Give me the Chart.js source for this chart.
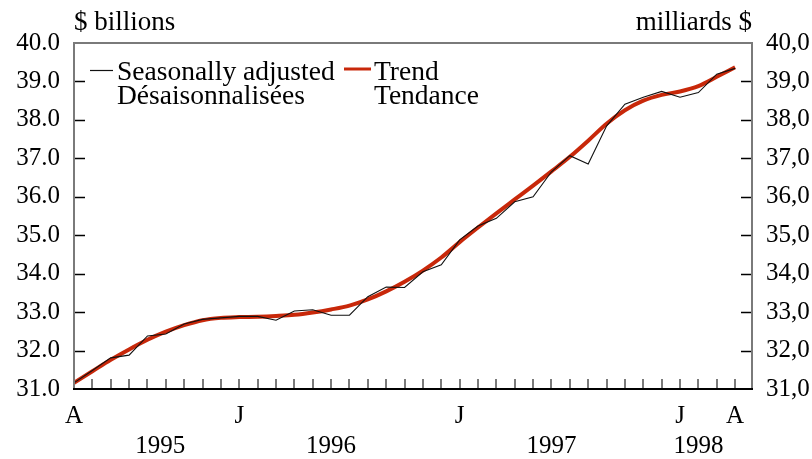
<!DOCTYPE html>
<html lang="en">
<head>
  <meta charset="UTF-8" />
  <title>Seasonally adjusted and trend, 1995-1998</title>
  <script src="https://cdn.jsdelivr.net/npm/chart.js"></script>
  <style>
    html, body {
      margin: 0;
      padding: 0;
      background: #fff;
    }
    #wrap {
      width: 812px;
      height: 459px;
    }
  </style>
</head>
<body>
  <div id="wrap">
    <canvas id="chart" width="812" height="459"></canvas>
  </div>

  <script>
    // Monthly, April 1995 to April 1998
    const months = [
      'A', 'M', 'J', 'J', 'A', 'S', 'O', 'N', 'D',
      'J', 'F', 'M', 'A', 'M', 'J', 'J', 'A', 'S', 'O', 'N', 'D',
      'J', 'F', 'M', 'A', 'M', 'J', 'J', 'A', 'S', 'O', 'N', 'D',
      'J', 'F', 'M', 'A'
    ];
    const labelledMonths = [0, 9, 21, 33, 36];

    const yearLabels = ['1995', '1996', '1997', '1998'];
    const yearAt = [4.7, 14.0, 26.0, 34.0];

    const seasonallyAdjusted = [
      31.16, 31.48, 31.81, 31.88, 32.38, 32.43, 32.69, 32.81, 32.85,
      32.89, 32.89, 32.79, 33.03, 33.06, 32.92, 32.92, 33.40, 33.65, 33.64, 34.05, 34.23,
      34.88, 35.24, 35.44, 35.87, 36.00, 36.65, 37.07, 36.85, 37.84, 38.41, 38.59, 38.74,
      38.59, 38.71, 39.19, 39.34
    ];

    const trend = [
      31.16, 31.46, 31.76, 32.03, 32.28, 32.49, 32.66, 32.79, 32.85,
      32.87, 32.88, 32.90, 32.93, 32.99, 33.07, 33.17, 33.33, 33.54, 33.79, 34.08, 34.42,
      34.82, 35.20, 35.57, 35.93, 36.29, 36.66, 37.04, 37.46, 37.90, 38.25, 38.50, 38.65,
      38.74, 38.88, 39.12, 39.37
    ];

    const yTicks = [31, 32, 33, 34, 35, 36, 37, 38, 39, 40];

    const saLegend = ['Seasonally adjusted', 'Désaisonnalisées'];
    const trendLegend = ['Trend', 'Tendance'];
    const unitLeft = '$ billions';
    const unitRight = 'milliards $';

    const serif = "'Liberation Serif', 'Times New Roman', serif";
    const tickFont = { family: serif, size: 25 };

    // box, inner tick marks, legend and unit labels
    const frame = {
      id: 'frame',
      afterDraw(chart) {
        const { ctx, chartArea: a, scales } = chart;
        ctx.save();

        // x tick marks, pointing up into the plot
        ctx.strokeStyle = '#7a7a7a';
        ctx.lineWidth = 2;
        scales.x.ticks.forEach(t => {
          const px = Math.round(scales.x.getPixelForValue(t.value));
          ctx.beginPath();
          ctx.moveTo(px, a.bottom);
          ctx.lineTo(px, a.bottom - 10);
          ctx.stroke();
        });

        // y tick marks, both sides
        ctx.strokeStyle = '#000';
        ctx.lineWidth = 1.5;
        scales.y.ticks.forEach(t => {
          if (t.value <= scales.y.min || t.value >= scales.y.max) return;
          const py = Math.round(scales.y.getPixelForValue(t.value)) + 0.5;
          ctx.beginPath();
          ctx.moveTo(a.left, py);
          ctx.lineTo(a.left + 11, py);
          ctx.moveTo(a.right, py);
          ctx.lineTo(a.right - 11, py);
          ctx.stroke();
        });

        // box
        ctx.strokeStyle = '#7a7a7a';
        ctx.lineWidth = 2;
        ctx.beginPath();
        ctx.moveTo(a.left, a.bottom);
        ctx.lineTo(a.left, a.top);
        ctx.lineTo(a.right, a.top);
        ctx.lineTo(a.right, a.bottom);
        ctx.stroke();
        ctx.strokeStyle = '#000';
        ctx.beginPath();
        ctx.moveTo(a.left - 1, a.bottom);
        ctx.lineTo(a.right + 1, a.bottom);
        ctx.stroke();

        // unit labels
        ctx.fillStyle = '#000';
        ctx.font = '27px ' + serif;
        ctx.textBaseline = 'alphabetic';
        ctx.textAlign = 'left';
        ctx.fillText(unitLeft, a.left, 30);
        ctx.textAlign = 'right';
        ctx.fillText(unitRight, a.right, 30);

        // legend
        const sa = chart.data.datasets[1];
        const tr = chart.data.datasets[0];
        ctx.font = '27.5px ' + serif;
        ctx.textAlign = 'left';
        ctx.strokeStyle = sa.borderColor;
        ctx.lineWidth = 1.2;
        ctx.beginPath();
        ctx.moveTo(90, 70.5);
        ctx.lineTo(113, 70.5);
        ctx.stroke();
        ctx.fillText(saLegend[0], 117, 80);
        ctx.fillText(saLegend[1], 117, 104);

        ctx.strokeStyle = tr.borderColor;
        ctx.lineWidth = 3;
        ctx.beginPath();
        ctx.moveTo(344, 69);
        ctx.lineTo(371, 69);
        ctx.stroke();
        ctx.fillText(trendLegend[0], 374, 80);
        ctx.fillText(trendLegend[1], 374, 104);

        ctx.restore();
      }
    };

    const ctx = document.getElementById('chart').getContext('2d');

    new Chart(ctx, {
      type: 'line',
      data: {
        datasets: [
          {
            label: trendLegend[0],
            data: trend.map((v, i) => ({ x: i, y: v })),
            borderColor: '#c8280a',
            borderWidth: 4,
            pointRadius: 0,
            cubicInterpolationMode: 'monotone',
            order: 1
          },
          {
            label: saLegend[0],
            data: seasonallyAdjusted.map((v, i) => ({ x: i, y: v })),
            borderColor: '#111',
            borderWidth: 1.1,
            pointRadius: 0,
            tension: 0,
            order: 0
          }
        ]
      },
      options: {
        responsive: false,
        animation: false,
        events: [],
        layout: {
          padding: { top: 43, right: 0, bottom: 0, left: 0 }
        },
        plugins: {
          legend: { display: false },
          tooltip: { enabled: false }
        },
        scales: {
          x: {
            type: 'linear',
            position: 'bottom',
            weight: 0,
            min: 0,
            max: 36.92,
            afterBuildTicks: s => { s.ticks = months.map((m, i) => ({ value: i })); },
            afterFit: s => { s.height = 40; },
            grid: { display: false, drawTicks: false },
            border: { display: false },
            ticks: {
              autoSkip: false,
              maxRotation: 0,
              padding: 12,
              color: '#000',
              font: tickFont,
              callback: v => labelledMonths.includes(v) ? months[v] : ''
            }
          },
          years: {
            type: 'linear',
            position: 'bottom',
            weight: 1,
            min: 0,
            max: 36.92,
            afterBuildTicks: s => { s.ticks = yearAt.map(v => ({ value: v })); },
            afterFit: s => { s.height = 30; },
            grid: { display: false, drawTicks: false },
            border: { display: false },
            ticks: {
              autoSkip: false,
              maxRotation: 0,
              padding: 2,
              color: '#000',
              font: tickFont,
              callback: (v, i) => yearLabels[i]
            }
          },
          y: {
            position: 'left',
            min: 31,
            max: 40,
            afterBuildTicks: s => { s.ticks = yTicks.map(v => ({ value: v })); },
            afterFit: s => { s.width = 74; },
            grid: { display: false, drawTicks: false },
            border: { display: false },
            ticks: {
              padding: 14,
              color: '#000',
              font: tickFont,
              callback: v => v.toFixed(1)
            }
          },
          y2: {
            position: 'right',
            min: 31,
            max: 40,
            afterBuildTicks: s => { s.ticks = yTicks.map(v => ({ value: v })); },
            afterFit: s => { s.width = 60; },
            grid: { display: false, drawTicks: false },
            border: { display: false },
            ticks: {
              padding: 14,
              color: '#000',
              font: tickFont,
              callback: v => v.toFixed(1).replace('.', ',')
            }
          }
        }
      },
      plugins: [frame]
    });
  </script>
</body>
</html>
